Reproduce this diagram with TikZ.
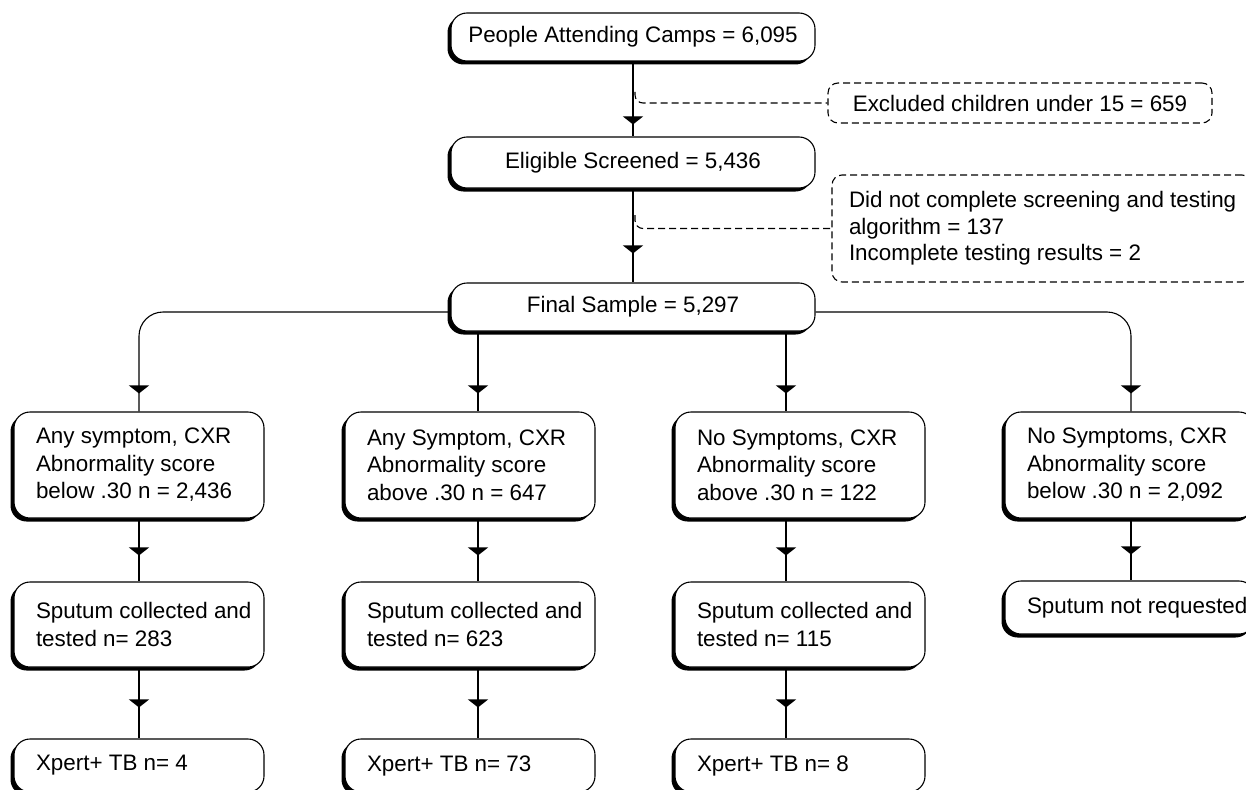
\documentclass[tikz,border=0pt]{standalone}
\usepackage{fontspec}
\setmainfont{Liberation Sans}
\usetikzlibrary{arrows.meta,decorations.markings,shadows}
\tikzset{
  flowbox/.style={draw, fill=white, rounded corners=16pt, line width=1.1pt,
    drop shadow={shadow xshift=-3.5pt, shadow yshift=-3.5pt, fill=black, opacity=1}},
  topbox/.style={flowbox, minimum width=364pt, align=center},
  rowbox/.style={flowbox, text width=236pt, inner xsep=7pt, align=flush left,
    execute at begin node={\leftskip=15pt}},
  dashbox/.style={draw, rounded corners=10pt, line width=1.1pt, dash pattern=on 7pt off 4pt},
  dashline/.style={line width=1.1pt, dash pattern=on 7pt off 4pt, rounded corners=8pt},
  tipat/.style={postaction={decorate}, decoration={markings,
    mark=at position -#1 with {\arrow{Triangle[width=20pt,length=8pt]}}}},
}
\begin{document}
\begin{tikzpicture}[x=1pt, y=-1pt, font=\fontsize{22.4}{27.5}\selectfont, line width=1.1pt, line join=round]
\useasboundingbox (0,0) rectangle (1246,789);
% top part
\node[topbox, minimum height=48pt] (people) at (633,37) {People Attending Camps = 6,095};
\node[topbox, minimum height=51pt] (elig) at (633,162.5) {Eligible Screened = 5,436};
\node[topbox, minimum height=48pt] (final) at (633,307) {Final Sample = 5,297};
\node[dashbox, minimum width=384pt, minimum height=40pt] (excl) at (1020,103) {Excluded children under 15 = 659};
\node[dashbox, text width=394pt, inner xsep=13pt, minimum height=107pt, align=flush left,
  font=\fontsize{22.4}{26.5}\selectfont] (incompl) at (1042,228.5)
  {\hspace*{4pt}Did not complete screening and testing\\ \hspace*{4pt}algorithm = 137\\ \hspace*{4pt}Incomplete testing results = 2};
% columns
\coordinate (colA) at (139,0);
\coordinate (colB) at (478,0);
\coordinate (colC) at (786,0);
\coordinate (colD) at (1131,0);
\node[rowbox, minimum height=106pt] (cxrA) at (139,465) {Any symptom, CXR\\ Abnormality score\\ below .30 n = 2,436};
\node[rowbox, minimum height=106pt] (cxrB) at (470,465) {Any Symptom, CXR\\ Abnormality score\\ above .30 n = 647};
\node[rowbox, minimum height=106pt] (cxrC) at (800,465) {No Symptoms, CXR\\ Abnormality score\\ above .30 n = 122};
\node[rowbox, minimum height=106pt] (cxrD) at (1130,465) {No Symptoms, CXR\\ Abnormality score\\ below .30 n = 2,092};
\node[rowbox, minimum height=85pt] (sputA) at (139,624.5) {Sputum collected and\\ tested n= 283};
\node[rowbox, minimum height=85pt] (sputB) at (470,624.5) {Sputum collected and\\ tested n= 623};
\node[rowbox, minimum height=85pt] (sputC) at (800,624.5) {Sputum collected and\\ tested n= 115};
\node[rowbox, minimum height=53pt] (sputD) at (1130,607.5) {Sputum not requested};
\node[rowbox, minimum height=53pt] (xpA) at (139,765.5) {Xpert+ TB n= 4};
\node[rowbox, minimum height=53pt] (xpB) at (470,765.5) {Xpert+ TB n= 73};
\node[rowbox, minimum height=53pt] (xpC) at (800,765.5) {Xpert+ TB n= 8};
% connectors
\draw[tipat=12pt] (people) -- (elig);
\draw[tipat=29pt] (elig) -- (final);
\coordinate (bendA) at (635,92);
\coordinate (bendB) at (635,215);
\draw[dashline] (bendA) |- (excl.west);
\draw[dashline] (bendB) |- (incompl.west);
\draw[tipat=18pt, rounded corners=24pt] ([yshift=-5pt]final.west) -| (cxrA.north -| colA);
\draw[tipat=18pt, rounded corners=24pt] ([yshift=-5pt]final.east) -| (cxrD.north -| colD);
\foreach \c in {B,C}
  \draw[tipat=18pt] (final.south -| col\c) -- (cxr\c.north -| col\c);
\foreach \c in {A,B,C,D}
  \draw[tipat=26pt] (cxr\c.south -| col\c) -- (sput\c.north -| col\c);
\foreach \c in {A,B,C}
  \draw[tipat=31pt] (sput\c.south -| col\c) -- (xp\c.north -| col\c);
\end{tikzpicture}
\end{document}
